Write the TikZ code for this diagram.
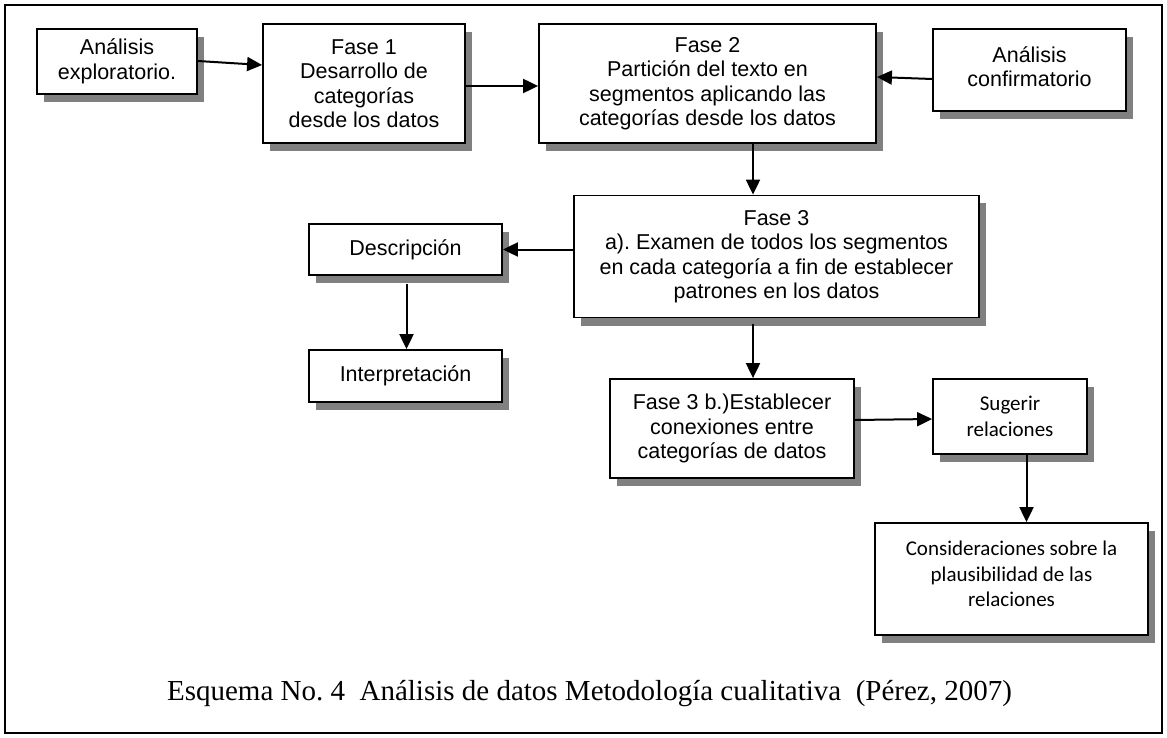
\documentclass[tikz,border=0pt]{standalone}
\usepackage{fontspec}
\setmainfont{Liberation Serif}
\newfontfamily\arialf{Liberation Sans}
\newfontfamily\calf{Carlito}
\usetikzlibrary{shadows,arrows.meta,calc}
\begin{document}
\frenchspacing
\begin{tikzpicture}[x=1pt,y=-1pt,
  box/.style={draw, line width=1.8pt, fill=white, inner sep=0pt, align=center,
    drop shadow={shadow xshift=7pt, shadow yshift=-8pt, fill=black!50, opacity=1}},
  plain/.style={inner sep=0pt, align=center},
  sans/.style={font=\arialf\fontsize{21.5}{24.5}\selectfont},
  cal/.style={font=\calf\fontsize{21}{25.5}\selectfont},
  arr/.style={line width=2pt, -{Triangle[length=15pt,width=14pt]}}]
\useasboundingbox (0,0) rectangle (1167,738);
\draw[line width=2pt] (5,5) rectangle (1162,733);

\node[box, sans, minimum width=160pt, minimum height=65pt] (a1) at (117,61.5) {Análisis\\exploratorio.};
\node[box, sans, minimum width=202pt, minimum height=119pt] (f1) at (364,83.5) {Fase 1\\Desarrollo de\\categorías\\desde los datos};
\node[box, sans, minimum width=337pt, minimum height=119pt] (f2) at (707.5,83.5) {Fase 2\\Partición del texto en\\segmentos aplicando las\\categorías desde los datos};
\node[box, minimum width=193pt, minimum height=82pt] (a2) at (1029.5,70) {};
\node[plain, sans] (a2t) at ($(a2)+(0,-3.5)$) {Análisis\\confirmatorio};
\node[box, sans, minimum width=405pt, minimum height=122pt] (f3) at (776.5,256.5) {Fase 3\\a). Examen de todos los segmentos\\en cada categoría a fin de establecer\\patrones en los datos};
\node[box, sans, minimum width=193pt, minimum height=51pt] (desc) at (405.5,249.5) {Descripción};
\node[box, sans, minimum width=193pt, minimum height=52pt] (interp) at (405.5,376) {Interpretación};
\node[box, sans, minimum width=244pt, minimum height=99pt] (f3b) at (732,428.5) {Fase 3 b.)Establecer\\conexiones entre\\categorías de datos};
\node[box, cal, minimum width=154pt, minimum height=75pt] (sug) at (1010,416.5) {Sugerir\\relaciones};
\node[box, minimum width=273pt, minimum height=112pt] (cons) at (1011.5,579) {};
\node[plain, cal] (const) at ($(cons)+(0,-5)$) {Consideraciones sobre la\\plausibilidad de las\\relaciones};

\node[plain, font=\fontsize{29}{32}\selectfont] (cap) at (589.5,694) {Esquema No. 4\ \ Análisis de datos Metodología cualitativa\ \ (Pérez, 2007)};

\draw[arr] ($(a1.east)+(0,-0.5)$) -- ($(f1.west)+(0,-18.5)$);
\draw[arr] ($(f1.east)+(0,2.5)$) -- ($(f2.west)+(0,2.5)$);
\draw[arr] ($(a2.west)+(0,9)$) -- ($(f2.east)+(0,-6.5)$);
\coordinate (fx) at ($(f2.south)+(45.5,0)$);
\draw[arr] (fx) -- (fx |- f3.north);
\draw[arr] (f3.west |- desc.east) -- (desc.east);
\draw[arr] ($(desc.south)+(1,8)$) -- ($(interp.north)+(1,0)$);
\coordinate (gx) at ($(fx |- f3.south)+(0,6)$);
\draw[arr] (gx) -- (gx |- f3b.north);
\draw[arr] ($(f3b.east)+(0,-8.5)$) -- ($(sug.west)+(0,2.5)$);
\coordinate (sd) at ($(sug.south)+(16.5,0)$);
\draw[arr] (sd) -- (sd |- cons.north);
\end{tikzpicture}
\end{document}
